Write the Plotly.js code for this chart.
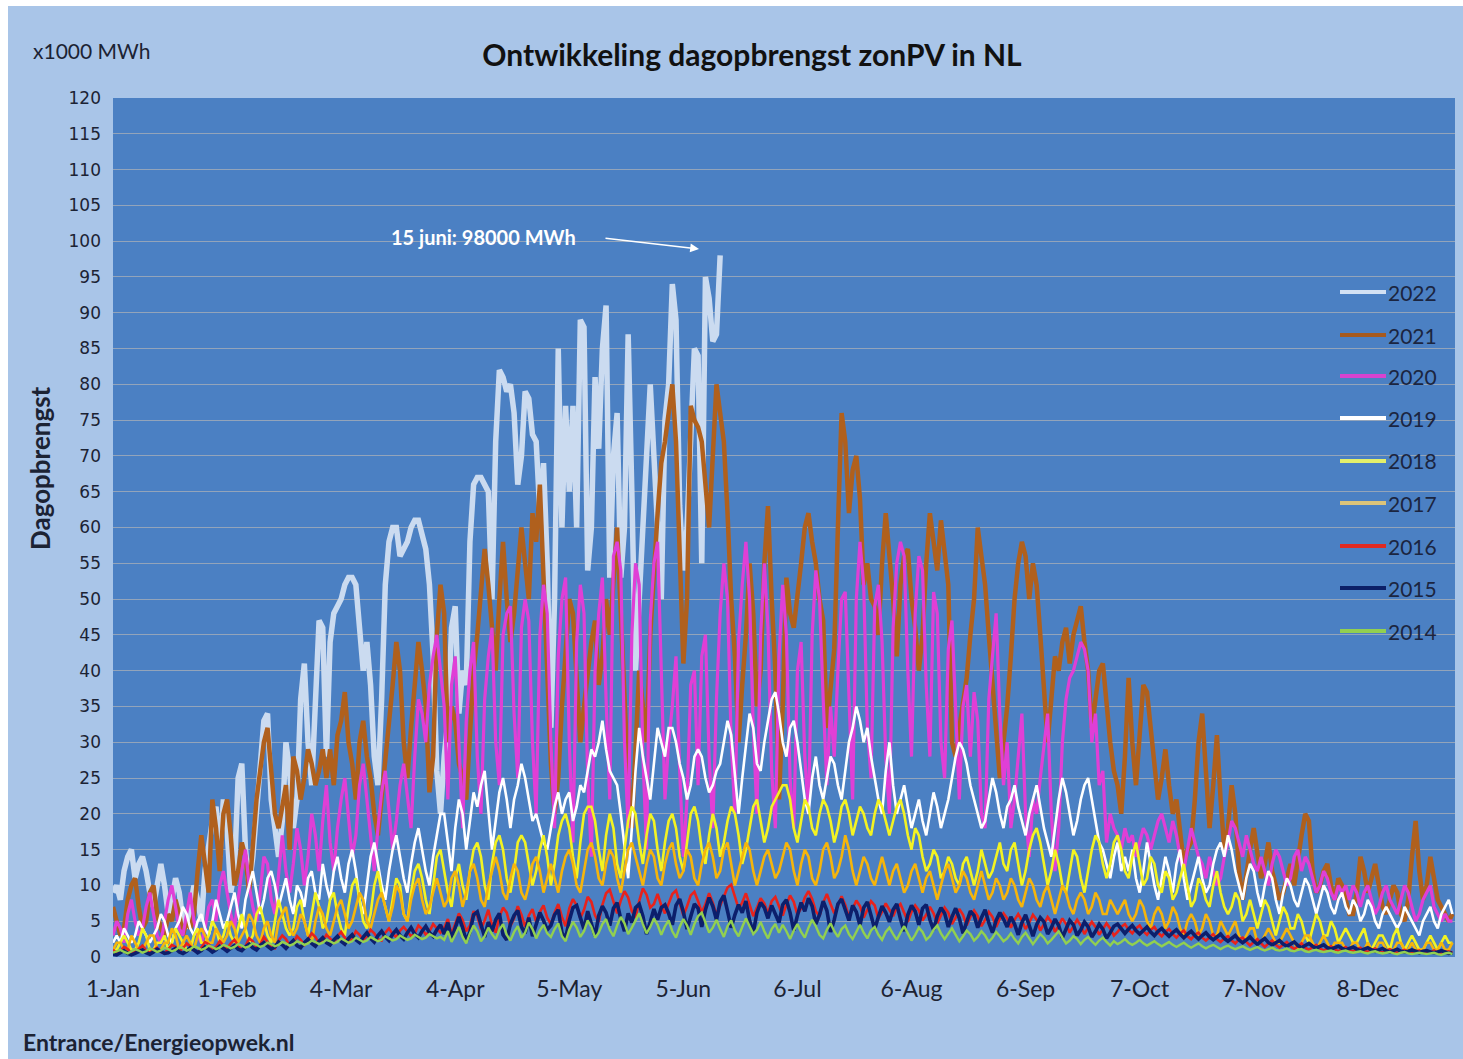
<!DOCTYPE html>
<html>
<head>
<meta charset="utf-8">
<script src="https://cdn.plot.ly/plotly-3.0.1.min.js"></script>
<style>
html,body{margin:0;padding:0;background:#ffffff;}
#chart{position:absolute;left:8px;top:6px;width:1455px;height:1053px;}
</style>
</head>
<body>
<div id="chart"></div>
<script>
// ---------------- DATA (x1000 MWh per day, index 0 = 1 Jan) ----------------
const seriesNames = ['2022','2021','2020','2019','2018','2017','2016','2015','2014'];
const tickLabels = ['1-Jan','1-Feb','4-Mar','4-Apr','5-May','5-Jun','6-Jul','6-Aug','6-Sep','7-Oct','7-Nov','8-Dec'];
const tickDays = [0,31,62,93,124,155,186,217,248,279,310,341];

const y2022 = [
 9,10,8,12,14,15,11,13,14,12,9,7,10,13,10,6,8,11,9,5,4,7,10,8,5,12,16,19,21,14,22,
 18,9,12,25,27,15,10,14,20,28,33,34,22,18,14,19,30,26,18,22,36,41,30,24,38,47,46,28,
 44,48,49,50,52,53,53,52,46,40,44,38,28,24,36,52,58,60,60,56,57,58,60,61,61,59,57,52,42,26,20,
 28,33,46,49,34,40,38,58,66,67,67,66,65,50,72,82,81,79,80,76,66,70,79,78,73,72,62,69,55,32,
 50,85,60,77,65,77,60,89,88,54,60,81,71,85,91,53,70,76,53,60,87,65,40,50,61,72,80,70,60,50,75,
 80,94,89,63,54,60,75,85,84,55,95,92,86,87,98
];
const y2021 = [
 7,5,3,4,8,10,11,7,4,5,9,10,6,4,3,6,5,8,6,3,5,4,6,12,17,13,9,22,18,12,20,
 22,17,10,12,16,14,9,15,22,26,30,32,25,20,18,21,24,15,28,26,22,25,29,27,24,26,29,25,
 29,24,31,33,37,30,27,22,30,33,28,25,20,17,22,28,33,38,44,40,30,25,32,38,44,40,35,23,28,45,52,
 48,30,35,33,27,25,22,30,40,45,52,57,52,45,40,50,58,50,44,48,55,60,55,50,62,58,66,52,40,27,
 20,25,35,42,50,48,38,30,35,40,44,47,38,42,50,45,52,60,48,35,25,18,30,40,35,30,45,55,62,69,72,
 76,80,72,58,41,50,77,75,74,72,65,60,70,80,76,72,62,50,42,30,38,45,55,48,35,40,55,63,50,40,
 22,35,53,48,46,50,55,60,62,58,55,50,47,32,38,43,60,76,72,62,68,70,64,52,55,50,49,45,55,62,56,
 50,42,52,56,57,50,46,40,45,55,62,58,54,61,57,52,30,28,32,36,39,45,50,60,56,52,45,38,30,25,30,
 35,42,50,55,58,56,50,55,52,45,38,30,36,42,40,44,46,41,45,47,49,44,40,32,36,40,41,35,30,26,
 24,20,28,39,30,24,32,38,37,32,27,22,25,29,24,20,22,18,13,15,16,22,30,34,25,18,24,31,22,15,18,
 24,20,12,8,12,15,18,14,11,13,16,12,10,8,9,11,13,10,14,17,20,19,12,9,10,12,13,10,8,11,
 10,8,6,6,9,14,12,9,11,13,10,7,6,8,10,9,6,5,8,14,19,12,8,10,14,11,8,7,6,5,6
];
const y2020 = [
 3,5,4,2,6,8,5,3,4,7,9,6,3,2,5,8,10,7,4,3,6,9,5,3,2,4,7,8,5,10,12,
 9,6,4,8,12,15,10,7,5,9,14,13,8,6,11,17,12,9,13,18,15,10,14,20,17,12,19,24,
 16,12,18,22,25,20,14,17,24,27,22,16,12,18,23,26,21,15,19,24,27,22,18,28,36,34,30,38,42,45,40,
 35,22,38,42,30,18,33,40,44,28,20,36,42,46,30,24,45,48,49,34,25,46,50,47,30,20,45,52,48,30,
 18,42,50,53,30,16,44,52,48,25,14,40,48,53,36,22,56,58,54,30,18,45,55,52,28,15,47,55,58,40,22,
 30,35,42,26,14,22,38,40,24,42,45,28,18,36,48,55,50,30,20,44,52,58,50,32,20,45,55,46,26,18,
 42,52,45,25,18,40,44,28,20,45,54,50,36,24,35,28,40,50,51,35,22,50,58,52,32,25,49,52,44,28,20,
 46,55,58,56,40,28,48,56,54,38,28,51,48,30,25,43,47,34,22,35,38,28,37,33,20,18,36,42,48,34,24,
 30,18,22,28,34,20,14,22,20,25,30,34,20,12,18,30,36,39,40,42,44,43,40,30,34,24,26,16,20,18,
 17,15,18,16,17,14,16,18,17,15,17,19,20,18,16,19,17,14,12,15,18,16,14,13,11,14,12,10,11,14,16,
 19,18,16,14,17,15,13,12,14,12,10,13,15,14,12,10,11,14,15,12,14,13,11,9,10,12,11,9,8,10,
 9,10,8,10,9,7,9,10,8,6,7,9,10,8,7,6,8,10,9,7,5,6,8,9,10,7,6,5,6,5,5
];
const y2019 = [
 2,3,2,4,3,2,3,5,4,3,2,3,4,6,5,3,2,4,5,7,6,4,3,5,6,4,3,5,8,6,4,
 5,7,9,6,4,8,10,12,9,6,8,11,12,10,7,9,11,8,6,10,9,7,11,12,9,8,13,10,
 8,12,14,11,9,13,15,12,8,6,10,14,16,13,10,8,12,15,17,14,11,9,13,16,18,15,12,10,14,17,20,
 20,16,12,18,22,20,15,19,23,21,24,26,20,15,19,23,25,22,18,22,24,27,25,22,19,20,18,16,15,18,
 21,23,20,22,23,19,21,24,23,26,29,28,30,33,29,26,25,24,20,15,11,18,26,32,28,25,22,27,32,30,28,
 32,32,30,27,25,22,24,28,29,28,25,23,24,26,27,30,33,31,25,20,25,30,34,32,27,26,30,33,36,37,
 34,30,28,32,33,30,26,22,20,25,28,24,22,25,28,27,24,22,26,30,32,35,33,30,32,28,25,22,20,26,30,
 24,20,22,24,21,18,20,22,19,17,20,23,21,18,20,22,25,28,30,29,27,24,22,20,18,19,22,25,23,20,18,
 21,22,24,21,19,17,20,22,24,21,18,16,14,18,22,25,23,20,17,19,22,24,25,22,19,16,15,13,11,14,
 16,12,14,12,15,11,9,12,16,13,10,8,11,14,12,9,13,15,11,8,10,12,14,11,9,10,13,15,16,14,17,
 15,12,10,8,11,13,12,9,7,10,12,11,8,6,9,11,10,8,7,9,11,10,8,6,8,10,9,7,6,8,
 9,7,6,8,7,5,6,8,7,5,4,6,7,6,5,4,5,7,6,5,4,3,5,6,7,5,4,6,7,8,6
];
const y2018 = [
 1,1,2,3,2,1,1,2,4,3,1,1,2,2,3,1,2,4,3,2,1,1,3,4,2,2,3,5,4,2,3,
 5,3,2,4,6,4,2,3,6,7,5,3,2,5,8,6,4,3,4,7,8,5,3,6,9,7,4,5,
 8,9,6,4,3,7,10,11,8,5,4,6,10,12,9,7,5,8,11,10,6,5,9,12,13,11,8,6,10,14,15,
 12,9,7,11,13,10,8,12,15,16,14,10,8,13,16,17,15,11,9,12,16,17,16,13,10,12,15,17,14,10,
 13,17,19,20,18,14,11,16,20,21,21,19,15,12,17,20,18,13,11,15,19,21,20,16,13,17,20,19,15,12,16,
 19,20,18,14,12,16,20,21,19,15,13,17,20,18,14,16,19,21,20,17,13,15,18,21,22,19,16,18,21,22,
 23,24,24,22,18,16,19,22,21,18,17,20,22,21,19,16,18,21,22,20,17,19,21,20,18,17,20,22,21,19,17,
 19,21,22,20,17,15,18,17,14,12,13,15,14,11,12,14,13,11,10,13,14,12,10,12,15,13,11,12,14,16,13,
 12,15,16,13,10,12,15,17,18,16,13,10,12,15,13,10,9,12,15,14,11,9,12,15,17,16,13,11,13,16,
 17,15,12,11,14,16,13,10,11,14,13,10,9,12,11,8,9,11,13,10,7,8,11,10,8,7,10,12,9,7,6,
 7,9,8,5,6,8,6,4,6,8,7,5,3,5,7,6,4,4,6,5,3,2,4,6,5,3,3,5,4,2,
 3,4,3,2,2,3,4,2,1,2,3,3,2,1,3,4,2,1,2,3,2,1,1,2,3,2,1,2,3,2,2
];
const y2017 = [
 1,2,2,1,1,3,2,1,1,2,3,3,1,1,2,2,4,3,1,2,3,2,1,3,4,3,2,2,4,3,2,
 3,5,4,2,3,4,6,5,3,2,4,5,3,2,5,6,7,4,3,4,6,5,3,2,5,7,6,4,
 3,5,7,8,6,4,5,7,9,8,5,4,6,8,9,7,5,7,10,9,6,5,8,10,11,8,6,7,9,11,9,
 7,8,11,12,10,7,9,12,13,11,8,7,10,12,14,12,9,8,11,13,12,9,8,10,13,14,12,9,11,13,
 11,9,12,14,15,13,10,9,12,15,16,14,11,10,13,15,14,11,9,12,15,16,14,12,10,13,15,14,11,10,13,
 15,16,13,11,12,15,14,11,10,13,15,16,14,11,12,15,16,13,10,12,14,16,15,12,10,12,14,15,13,11,
 12,14,16,15,12,10,13,15,14,11,10,12,15,16,14,11,12,14,17,15,12,10,12,14,13,11,10,12,14,12,10,
 12,13,11,9,10,12,13,11,9,11,12,10,8,10,12,13,11,9,10,12,11,9,8,10,12,10,8,9,11,10,8,
 9,11,10,8,7,9,11,10,8,7,9,10,8,6,8,10,9,7,6,8,9,8,6,7,9,8,6,6,8,7,
 6,7,8,6,5,6,8,7,5,4,6,7,6,4,5,7,6,4,3,5,6,5,3,4,6,5,3,3,5,4,3,
 4,5,3,2,3,4,4,2,2,3,4,3,2,2,3,4,3,2,1,2,3,3,2,1,2,3,2,1,2,2,
 2,1,1,2,2,1,1,2,1,1,2,2,1,1,1,2,2,1,1,2,1,1,1,2,2,1,1,2,1,1,2
];
const y2016 = [
 1,0.6,0.8,1.4,1.1,0.5,0.7,1.2,1.6,0.9,0.6,1,1.3,0.7,0.5,1.1,1.7,1.4,0.8,1.2,1.9,1.5,0.9,0.7,1.3,2.1,1.8,1.1,1.4,2.2,1.6,
 1.2,1.9,2.4,1.6,1,1.5,2.6,2.2,1.3,1.7,2.8,2.1,1.4,1.2,2.3,3,2.5,1.6,1.9,2.9,2.4,1.7,2.6,3.3,2.8,1.9,2.2,3.1,
 2.6,2,2.9,3.5,2.7,2.1,2.5,3.6,3.1,2.4,2.9,3.8,3.3,2.5,2.3,3.4,4,3.2,2.8,3.7,4.2,3.5,2.9,3.3,4.4,3.9,3.1,3.6,4.6,4,3.4,
 4.1,5.3,3.2,4.6,6.1,5.2,3.6,4.4,6.4,5.7,3.9,5.1,6.6,4.5,3.4,5.6,6.9,6.2,4.3,5.4,7.1,5.9,4.2,5.8,6.7,4.9,6.3,7.2,5.5,4.6,
 6.2,7.4,5.6,4.3,6.8,8.1,7.2,5.4,6.6,8.4,7.7,5.8,4.9,7.3,8.9,9.4,7.6,6.1,7.9,9.2,8.3,6.4,5.5,7.8,9.6,8.7,6.9,7.4,8.8,7.2,6.1,
 7.5,8.8,9.3,7.4,5.8,7.1,8.6,9.1,7.8,6.2,7.4,8.9,7.6,5.9,7.2,8.5,9.7,10.1,8.4,6.8,7.6,8.9,7.3,5.7,6.9,8.2,7.5,6.1,7.8,8.4,
 7.1,5.8,7.3,8.6,7.7,5.9,6.8,8.3,9.2,8.1,6.4,5.7,7.6,8.8,7.4,6.1,7.2,8.5,7.3,5.6,6.7,7.9,7.1,5.5,6.6,7.8,7.2,5.4,6.3,7.5,6.6,
 5.7,6.9,7.4,6.2,4.9,6.3,7.2,6.5,5.1,5.9,7,6.1,4.7,5.8,6.9,6.2,4.6,5.5,6.7,5.9,4.4,5.6,6.5,5.7,4.3,5.2,6.3,5.6,4.2,5.3,6.1,
 5.4,4.1,5.2,6,5.1,3.9,4.8,5.9,5.2,3.7,4.6,5.6,4.9,3.5,4.4,5.4,4.6,3.4,4.3,5.2,4.4,3.2,4.1,4.9,4.2,3.1,3.9,4.7,4,3,
 3.5,4.2,4.6,3.8,3.3,4,4.4,3.6,3.1,3.8,4.2,3.4,2.9,3.5,3.9,3.2,2.7,3.3,3.7,2.9,2.5,3.1,3.4,2.7,2.3,2.8,3.2,2.5,2.1,2.6,2.9,
 2.3,1.9,2.5,2.7,2.1,1.6,2.1,2.5,1.9,1.4,1.9,2.3,1.7,1.3,1.7,2.1,1.5,1.1,1.5,1.9,1.3,1,1.4,1.7,1.2,0.9,1.2,1.5,1.1,0.8,
 1.1,1.4,1,0.8,1.1,1.3,0.9,0.7,1,1.2,0.8,0.6,0.9,1.1,0.8,0.6,0.8,1,0.7,0.5,0.8,0.9,0.6,0.5,0.7,0.9,0.6,0.5,0.7,0.8,0.6
];
const y2015 = [
 0.4,0.3,0.6,0.9,0.5,0.3,0.5,0.8,1,0.6,0.4,0.7,1.1,0.8,0.5,0.6,0.9,1.2,0.7,0.5,0.8,1.3,1,0.6,0.9,1.4,1.1,0.7,1,1.5,1.2,
 0.8,1.2,1.6,1.1,0.9,1.4,1.8,1.3,1,1.6,2,1.5,1.1,1.4,2.1,1.7,1.2,1.8,2.3,1.6,1.3,2,2.5,1.9,1.5,2.2,2.7,2,
 1.7,2.4,2.9,2.2,1.8,2.6,3.1,2.4,2,2.8,3.4,2.6,2.1,3,3.6,2.8,2.3,3.2,3.8,3,2.5,3.4,4.1,3.2,2.7,3.6,4.3,3.4,2.9,3.8,4.5,
 3.2,4.8,2.5,3.9,5.6,4.1,2.2,3.5,5.9,6.3,4.4,2.8,4.9,3.6,5.2,6.1,3.1,2.4,4.6,5.8,6.5,4.2,3.3,5.5,2.9,4.7,6.2,5.1,3.8,4.4,
 5.9,6.6,3.4,2.6,5.1,6.9,7.2,5.5,3.9,6.4,4.6,2.9,5.8,7.1,6.2,4.4,6.8,7.6,5.3,3.6,6.1,4.8,6.9,7.4,5.7,3.2,4.9,6.7,5.2,6.9,7.3,
 6.1,4.5,7.2,8.1,6.3,3.9,5.6,7.4,6.8,4.2,6.6,8.3,7.1,5.2,7.7,8.6,6.4,4.1,5.9,7.3,6.2,7.8,5.1,3.4,6.2,7.6,6.9,5.4,7.2,6.1,
 4.8,7.3,8,6.2,3.7,5.8,7.6,6.4,8.2,7.1,4.6,5.9,7.8,6.5,3.5,5.2,7.4,8.1,6.6,5.1,7.2,6.3,4.4,6.9,7.7,5.8,3.9,5.6,7.1,6.2,4.9,
 6.6,7.4,5.3,3.6,5.9,7.2,6.4,4.5,6.8,7.3,5.2,3.8,5.7,6.9,6.1,4.2,5.6,6.8,5.4,3.3,4.9,6.4,5.8,4.1,5.5,6.6,4.8,3.4,5.1,6.2,5.3,
 4.2,5.6,4.6,3.1,4.8,5.9,4.4,2.9,4.5,5.5,4.9,3.2,4.1,5.3,4.4,2.7,3.9,5.1,4.5,3,3.8,4.9,4.2,2.8,3.6,4.6,3.9,2.6,3.4,4.3,
 4.6,3.9,3.3,3.9,4.4,3.7,3.2,3.7,4.2,3.5,3,3.6,4,3.4,2.9,3.4,3.8,3.2,2.7,3.2,3.6,3,2.5,3,3.4,2.8,2.4,2.8,3.2,2.6,2.2,
 2.6,3,2.4,2,2.4,2.8,2.2,1.8,2.2,2.6,2,1.7,2,2.3,1.8,1.5,1.8,2.1,1.6,1.3,1.6,1.9,1.5,1.2,1.5,1.7,1.3,1.1,1.3,1.5,
 1.2,1,1.2,1.4,1.1,0.9,1.1,1.3,1,0.8,1,1.2,0.9,0.7,0.9,1.1,0.8,0.7,0.8,1,0.8,0.6,0.8,0.9,0.7,0.6,0.7,0.9,0.7,0.5,0.6
];
const y2014 = [
 0.6,0.8,1,0.7,0.5,0.8,1.1,0.9,0.6,0.8,1.2,1,0.7,0.9,1.3,1.1,0.8,1,1.4,1.2,0.9,1.1,1.5,1.3,1,1.2,1.6,1.4,1.1,1.3,1.7,
 1.5,1.2,1.4,1.8,1.6,1.3,1.5,1.9,1.7,1.4,1.6,2,1.8,1.5,1.7,2.1,1.9,1.6,1.8,2.2,2,1.7,1.9,2.3,2.1,1.8,2,2.4,
 2.2,1.9,2.1,2.6,2.3,2,2.2,2.7,2.4,2.1,2.3,2.8,2.5,2.2,2.4,2.9,2.6,2.3,2.5,3,2.7,2.4,2.6,3.1,2.8,2.5,2.7,3.2,2.9,2.6,2.8,
 2.4,3.6,2.1,3.1,4.2,2.8,1.9,3.3,4.4,3.6,2.2,2.9,4.1,3.2,2.5,3.8,4.6,3.1,2.3,3.5,4.3,2.7,3.4,4.8,3.9,2.6,3.7,4.5,3.3,2.8,
 3.9,4.7,2.9,2.2,3.8,4.9,4.1,2.8,3.6,5.1,4.2,2.7,3.4,4.6,5.3,3.8,2.9,4.4,5.6,4.7,3.2,4.1,5.2,6.1,4.6,3.3,4.2,5.4,4.5,3.1,4.3,
 5.1,3.6,2.7,4.2,5.3,4.4,3.1,4.6,5.7,6.2,4.8,3.4,4.1,5.2,3.9,2.8,4.3,5.1,3.7,2.9,4.2,5.4,4.3,3.2,3.8,4.9,3.6,2.6,3.9,4.6,
 3.4,4.5,3.6,2.5,3.7,4.6,3.5,2.7,4.1,5.2,4.3,3.1,2.6,3.8,4.7,3.6,2.8,3.9,4.4,3.2,2.5,3.6,4.5,3.4,2.6,3.7,4.2,3.1,2.4,3.5,4.1,
 3.2,2.4,3.4,4.3,3.3,2.3,3.1,4.1,3.5,2.4,2.9,3.8,4.4,3.3,2.5,3.2,4,3.1,2.2,2.9,3.7,3.2,2.3,2.8,3.6,3,2.1,2.7,3.5,2.9,2.2,
 2.6,3.3,2.5,1.9,2.8,3.4,2.6,1.8,2.5,3.2,2.7,1.9,2.4,3,3.6,2.7,1.9,2.3,2.9,2.5,1.8,2.4,2.8,2.2,1.7,2.3,2.7,2.1,1.6,2.2,
 1.8,2.1,2.5,2,1.7,2,2.4,1.9,1.6,1.9,2.2,1.8,1.5,1.8,2.1,1.7,1.4,1.7,2,1.6,1.3,1.6,1.9,1.5,1.2,1.5,1.7,1.4,1.1,1.4,1.6,
 1.3,1.1,1.3,1.5,1.2,1,1.2,1.4,1.1,0.9,1.1,1.3,1,0.9,1,1.2,0.9,0.8,1,1.1,0.8,0.7,0.9,1,0.8,0.7,0.8,0.9,0.7,0.6,
 0.8,0.9,0.7,0.6,0.7,0.8,0.6,0.5,0.7,0.8,0.6,0.5,0.6,0.7,0.5,0.4,0.6,0.7,0.5,0.4,0.5,0.6,0.5,0.4,0.5,0.6,0.4,0.3,0.5,0.6,0.4
];
const allSeries = [y2022,y2021,y2020,y2019,y2018,y2017,y2016,y2015,y2014];

// ---------------- STYLE ----------------
const lineColors = ['#cbdbf0','#b0601d','#e03fd6','#ffffff','#f3f322','#f5b50c','#e8221c','#0c1f6c','#92d050'];
const legendColors = ['#d3e1f3','#a65a1e','#d843cf','#ffffff','#e4f06a','#dcc47a','#e02a22','#0c2068','#92d050'];
const lineWidths = [5.5,4.5,3.2,2.6,2.6,2.6,2.6,3.6,2.4];

// page geometry of the plot area
const L = 113, R = 1455, T = 98, B = 957;
const OX = 8, OY = 6, W = 1455, H = 1053;
const XMAX = 364.7;
const px = x => (x - L) / (R - L);
const py = y => (B - y) / (B - T);
const dx = x => (x - L) / (R - L) * XMAX;
const dy = y => (B - y) / (B - T) * 120;

const traces = allSeries.map((vals, i) => ({
  type: 'scatter', mode: 'lines', name: seriesNames[i],
  x: vals.map((_, d) => d), y: vals,
  line: {color: lineColors[i], width: lineWidths[i]},
  hoverinfo: 'skip', showlegend: false
}));

const textColor = '#1c2334';
const annotations = [
  {xref:'paper', yref:'paper', x:px(31), y:py(50), xanchor:'left', yanchor:'middle', showarrow:false,
   text:'x1000 MWh', font:{family:'Lato', size:21, color:textColor}},
  {xref:'paper', yref:'paper', x:px(40), y:py(468), xanchor:'center', yanchor:'middle', showarrow:false,
   textangle:-90, text:'<b>Dagopbrengst</b>', font:{family:'Lato', size:26, color:textColor}},
  {xref:'paper', yref:'paper', x:px(21), y:py(1042), xanchor:'left', yanchor:'middle', showarrow:false,
   text:'<b>Entrance/Energieopwek.nl</b>', font:{family:'Lato', size:23, color:textColor}},
  {xref:'paper', yref:'paper', x:px(389), y:py(237), xanchor:'left', yanchor:'middle', showarrow:false,
   text:'<b>15 juni: 98000 MWh</b>', font:{family:'Lato', size:20, color:'#ffffff'}},
  {xref:'x', yref:'y', x:dx(699), y:dy(249), axref:'x', ayref:'y', ax:dx(604), ay:dy(238),
   text:'', showarrow:true, arrowhead:2, arrowsize:1.1, arrowwidth:1.6, arrowcolor:'#ffffff', standoff:0, startstandoff:0}
];
const legendY = [292,335,376,418,461,503,546,588,631];
const shapes = [];
seriesNames.forEach((n, i) => {
  shapes.push({type:'line', xref:'paper', yref:'paper', x0:px(1340), x1:px(1386), y0:py(legendY[i]), y1:py(legendY[i]),
    line:{color:legendColors[i], width:4}});
  annotations.push({xref:'paper', yref:'paper', x:px(1386), y:py(legendY[i]), xanchor:'left', yanchor:'middle',
    showarrow:false, text:n, font:{family:'Lato', size:21, color:'#1b2540'}});
});

const layout = {
  width: W, height: H,
  margin: {l: L - OX, r: OX + W - R, t: T - OY, b: OY + H - B, pad: 0},
  paper_bgcolor: '#a9c5e8', plot_bgcolor: '#4b80c3',
  showlegend: false,
  title: {text:'<b>Ontwikkeling dagopbrengst zonPV in NL</b>', font:{family:'Lato', size:30, color:'#111111'},
          xref:'paper', x:px(752), xanchor:'center', yref:'container', y:1 - (55 - OY) / H, yanchor:'middle'},
  xaxis: {range:[0, XMAX], tickvals: tickDays, ticktext: tickLabels, showgrid:false, zeroline:false, showline:false,
          ticks:'', tickfont:{family:'Lato', size:23, color:textColor}, ticklabelstandoff:16, fixedrange:true},
  yaxis: {range:[0,120], tick0:0, dtick:5, showgrid:true, gridcolor:'#93a4ba', gridwidth:1, zeroline:false, showline:false,
          ticks:'', tickfont:{family:'DejaVu Sans', size:17, color:textColor}, ticklabelstandoff:11, fixedrange:true},
  annotations: annotations,
  shapes: shapes
};

Plotly.newPlot('chart', traces, layout, {displayModeBar:false, staticPlot:true});
</script>
</body>
</html>
